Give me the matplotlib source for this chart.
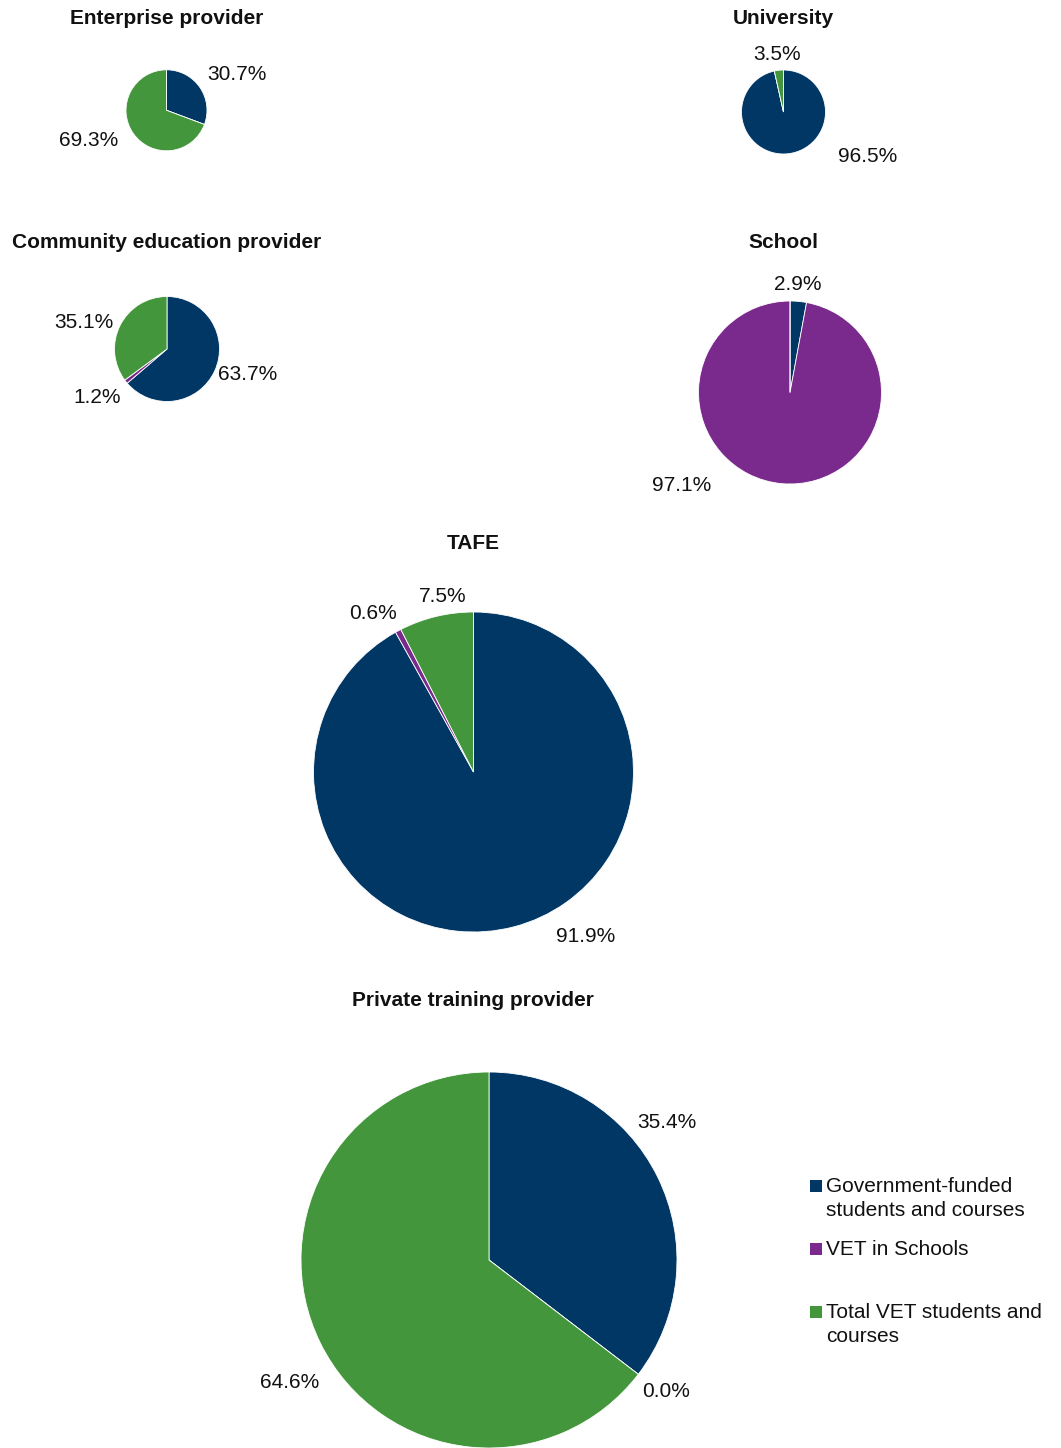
import matplotlib
matplotlib.use("Agg")
import matplotlib.pyplot as plt
from matplotlib.patches import Rectangle

# ---- data ----
categories = ["Government-funded\nstudents and courses", "VET in Schools",
              "Total VET students and\ncourses"]
providers = ["Enterprise provider", "University", "Community education provider",
             "School", "TAFE", "Private training provider"]
gov_funded = [30.7, 96.5, 63.7, 2.9, 91.9, 35.4]
vet_in_schools = [0.0, 0.0, 1.2, 97.1, 0.6, 0.0]
total_vet = [69.3, 3.5, 35.1, 0.0, 7.5, 64.6]

# ---- layout / style ----
W, H = 1061, 1448
colors = ["#003764", "#7a2a8c", "#43963b"]
# pie centre x, centre y, radius (pixels)
pie_geom = [(166.5, 110.3, 40.5), (783.5, 112, 42), (167, 349, 52.5),
            (790, 392.5, 91.5), (473.5, 772, 160), (489, 1260, 188)]
title_pos = [(167, 18), (783, 18), (167, 243), (783, 243), (473, 544), (473, 1000)]
# label offsets in radius units (None = no label)
label_off = [
    [(1.74, 0.875), None, (-1.93, -0.75)],
    [(2.0, -1.05), None, (-0.16, 1.36)],
    [(1.53, -0.49), (-1.33, -0.92), (-1.58, 0.5)],
    [(0.08, 1.18), (-1.18, -1.02), None],
    [(0.70, -1.025), (-0.63, 0.99), (-0.19, 1.10)],
    [(0.944, 0.734), (0.94, -0.70), (-1.06, -0.65)],
]
base_font = ["Liberation Sans", "DejaVu Sans"]
label_font = ["Liberation Sans Narrow", "Liberation Sans", "DejaVu Sans"]

fig = plt.figure(figsize=(W / 100, H / 100), dpi=100)

for i, name in enumerate(providers):
    cx, cy, r = pie_geom[i]
    ax = fig.add_axes([(cx - r) / W, 1 - (cy + r) / H, 2 * r / W, 2 * r / H])
    vals = [gov_funded[i], vet_in_schools[i], total_vet[i]]
    ax.pie(vals, colors=colors, startangle=90, counterclock=False, radius=1,
           wedgeprops=dict(edgecolor="white", linewidth=0.6), frame=False)
    ax.set_xlim(-1, 1)
    ax.set_ylim(-1, 1)
    ax.set_aspect("auto")
    ax.axis("off")
    for j, v in enumerate(vals):
        off = label_off[i][j]
        if off is None:
            continue
        ax.text(off[0], off[1], f"{v:.1f}%", ha="center", va="center",
                fontsize=15, family=label_font, color="#111111", clip_on=False)
    tx, ty = title_pos[i]
    fig.text(tx / W, 1 - ty / H, name, ha="center", va="center",
             fontsize=15, fontweight="bold", family=base_font, color="#111111")

# ---- legend ----
leg_y = [1186, 1249, 1312]
for k, lab in enumerate(categories):
    y = leg_y[k]
    fig.patches.append(Rectangle(((810) / W, 1 - (y + 6) / H), 12 / W, 12 / H,
                                 transform=fig.transFigure, facecolor=colors[k],
                                 edgecolor="none"))
    fig.text(826 / W, 1 - (y - 9) / H, lab, ha="left", va="top", fontsize=15,
             family=base_font, color="#111111", linespacing=1.36)

fig.savefig("out.png", dpi=100, facecolor="white")
